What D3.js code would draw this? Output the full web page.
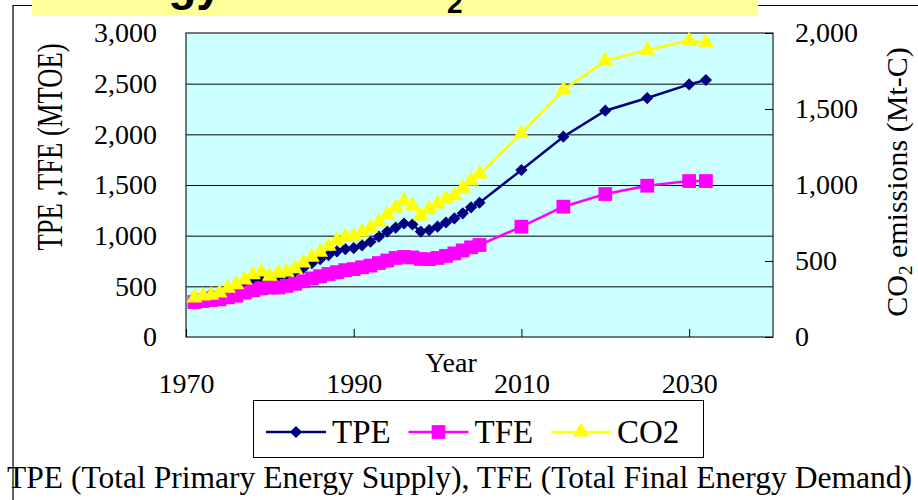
<!DOCTYPE html>
<html>
<head>
<meta charset="utf-8">
<script src="https://cdn.jsdelivr.net/npm/d3@7/dist/d3.min.js"></script>
<style>
  body { margin: 0; background: #fff; }
  svg { display: block; font-family: "Liberation Serif", "Times New Roman", serif; }
</style>
</head>
<body>
<div id="chart"></div>
<script>
// years: annual history then projections
const years = [1971, 1972, 1973, 1974, 1975, 1976, 1977, 1978, 1979, 1980,
    1981, 1982, 1983, 1984, 1985, 1986, 1987, 1988, 1989, 1990,
    1991, 1992, 1993, 1994, 1995, 1996, 1997, 1998, 1999, 2000,
    2001, 2002, 2003, 2004, 2005, 2010, 2015, 2020, 2025, 2030, 2032];

// MTOE
const tpe = [393, 408, 425, 430, 465, 490, 530, 562, 578, 588,
    585, 612, 645, 682, 728, 768, 808, 845, 868, 878,
    905, 940, 990, 1040, 1080, 1120, 1110, 1040, 1055, 1090,
    1130, 1170, 1220, 1280, 1325, 1648, 1977, 2233, 2358, 2493, 2536];

const tfe = [345, 355, 365, 372, 392, 408, 438, 462, 480, 488,
    488, 505, 525, 550, 578, 600, 622, 640, 660, 670,
    688, 705, 730, 755, 780, 790, 785, 770, 768, 780,
    800, 825, 855, 885, 908, 1089, 1286, 1411, 1493, 1539, 1539];

// Mt-C (right axis)
const co2 = [258, 270, 275, 290, 322, 345, 375, 410, 428, 400,
    420, 428, 450, 488, 525, 558, 598, 636, 658, 665,
    690, 718, 758, 805, 850, 893, 862, 796, 842, 875,
    908, 930, 980, 1026, 1072, 1340, 1625, 1818, 1888, 1950, 1936];

const leftTicks = [0, 500, 1000, 1500, 2000, 2500, 3000];
const rightTicks = [0, 500, 1000, 1500, 2000];
const yearTicks = [1970, 1990, 2010, 2030];
const seriesNames = ['TPE', 'TFE', 'CO2'];

let width = 918, height = 500;
let plot = {left: 186, right: 773, top: 33, bottom: 337};

let svg = d3.select('#chart').append('svg')
    .attr('width', width)
    .attr('height', height);

// frame + cut-off title banner
svg.append('path')
    .attr('d', `M13,${height} V5.5 H${width}`)
    .attr('fill', 'none')
    .attr('stroke', '#000')
    .attr('stroke-width', 1.2);

svg.append('rect')
    .attr('x', 32).attr('y', 0)
    .attr('width', 726).attr('height', 16)
    .attr('fill', '#ffff99');

let title = svg.append('text')
    .attr('x', 66).attr('y', 0)
    .style('font-family', '"Liberation Sans", Arial, sans-serif')
    .style('font-weight', 'bold')
    .style('font-size', '46px')
    .text('Energy Use & CO');
title.append('tspan')
    .attr('dy', 13)
    .style('font-size', '28px')
    .text('2');

let x = d3.scaleLinear().domain([1970, 2040]).range([plot.left, plot.right]);
let yL = d3.scaleLinear().domain([0, 3000]).range([plot.bottom, plot.top]);
let yR = d3.scaleLinear().domain([0, 2000]).range([plot.bottom, plot.top]);

svg.append('rect')
    .attr('x', plot.left).attr('y', plot.top)
    .attr('width', plot.right - plot.left)
    .attr('height', plot.bottom - plot.top)
    .attr('fill', '#ccffff');

// gridlines
svg.append('g')
    .attr('transform', `translate(${plot.left},0)`)
    .call(d3.axisLeft(yL).tickValues(leftTicks.slice(1, -1)).tickSize(-(plot.right - plot.left)).tickFormat(''))
    .call(g => g.select('.domain').remove())
    .selectAll('line').attr('stroke', '#000');

svg.append('rect')
    .attr('x', plot.left).attr('y', plot.top)
    .attr('width', plot.right - plot.left)
    .attr('height', plot.bottom - plot.top)
    .attr('fill', 'none')
    .attr('stroke', '#222')
    .attr('stroke-width', 1.2);

// axes
let axisLeft = svg.append('g')
    .attr('transform', `translate(${plot.left},0)`)
    .call(d3.axisLeft(yL).tickValues(leftTicks).tickFormat(d3.format(',')).tickSize(0).tickPadding(29));
axisLeft.select('.domain').remove();

let axisRight = svg.append('g')
    .attr('transform', `translate(${plot.right},0)`)
    .call(d3.axisRight(yR).tickValues(rightTicks).tickFormat(d3.format(',')).tickSize(-8).tickPadding(22));
axisRight.select('.domain').remove();

let axisBottom = svg.append('g')
    .attr('transform', `translate(0,${plot.bottom})`)
    .call(d3.axisBottom(x).tickValues(yearTicks).tickFormat(d3.format('d')).tickSize(-8).tickPadding(36));
axisBottom.select('.domain').remove();

svg.selectAll('.tick text')
    .attr('fill', '#000')
    .style('font-family', '"Liberation Serif", "Times New Roman", serif')
    .style('font-size', '28px');
svg.selectAll('.tick line').attr('stroke', '#000');

// axis titles
svg.append('text')
    .attr('transform', 'translate(62,147) rotate(-90)')
    .attr('text-anchor', 'middle')
    .attr('textLength', 207)
    .attr('lengthAdjust', 'spacingAndGlyphs')
    .style('font-size', '36px')
    .text('TPE ,TFE (MTOE)');

let rTitle = svg.append('text')
    .attr('transform', 'translate(907,182) rotate(-90)')
    .attr('text-anchor', 'middle')
    .style('font-size', '30px')
    .text('CO');
rTitle.append('tspan').attr('dy', 5).style('font-size', '19px').text('2');
rTitle.append('tspan').attr('dy', -5).text(' emissions  (Mt-C)');

svg.append('text')
    .attr('x', 451).attr('y', 372)
    .attr('text-anchor', 'middle')
    .style('font-size', '28px')
    .text('Year');

// series
let diamond = d3.symbol().type(d3.symbolDiamond2).size(95);
let square = d3.symbol().type(d3.symbolSquare).size(190);
let triangle = d3.symbol().type(d3.symbolTriangle).size(110);

let series = [
    {name: 'TPE', values: tpe, y: yL, color: '#000080', symbol: diamond},
    {name: 'TFE', values: tfe, y: yL, color: '#ff00ff', symbol: square},
    {name: 'CO2', values: co2, y: yR, color: '#ffff00', symbol: triangle}
];

series.forEach(s => {
    let pts = years.map((yr, i) => [x(yr), s.y(s.values[i])]);
    let g = svg.append('g').attr('class', 'series');
    g.append('path')
        .attr('d', d3.line()(pts))
        .attr('fill', 'none')
        .attr('stroke', s.color)
        .attr('stroke-width', 2.5);
    g.selectAll('path.mark')
        .data(pts)
        .enter().append('path')
        .attr('class', 'mark')
        .attr('transform', d => `translate(${d[0]},${d[1]})`)
        .attr('d', s.symbol)
        .attr('fill', s.color);
});

// legend
let legend = svg.append('g');
legend.append('rect')
    .attr('x', 253.5).attr('y', 400.5)
    .attr('width', 450).attr('height', 57)
    .attr('fill', '#fff')
    .attr('stroke', '#000');

let legendX = d3.scalePoint().domain(seriesNames).range([266, 551]);
series.forEach(s => {
    let lx = legendX(s.name);
    let item = legend.append('g').attr('transform', `translate(${lx},432)`);
    item.append('line')
        .attr('x1', 0).attr('x2', 60)
        .attr('stroke', s.color)
        .attr('stroke-width', 2.5);
    item.append('path')
        .attr('transform', 'translate(30,0)')
        .attr('d', s.symbol)
        .attr('fill', s.color);
    item.append('text')
        .attr('x', 66).attr('y', 11)
        .style('font-size', '33px')
        .text(s.name);
});

svg.append('text')
    .attr('x', 7).attr('y', 488)
    .attr('textLength', 905)
    .attr('lengthAdjust', 'spacingAndGlyphs')
    .style('font-size', '31px')
    .text('TPE (Total Primary Energy Supply), TFE (Total Final Energy Demand)');
</script>
</body>
</html>
